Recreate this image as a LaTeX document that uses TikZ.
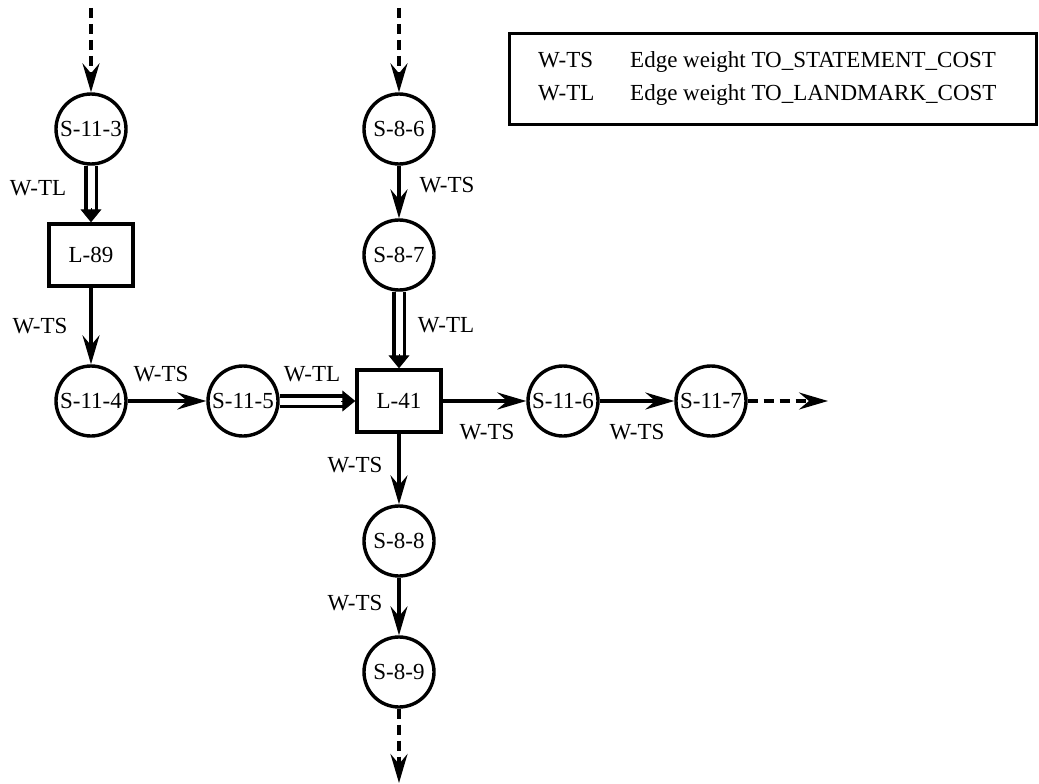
\documentclass[tikz,border=0pt]{standalone}
\usepackage{fontspec}
\setmainfont{Liberation Serif}
\usetikzlibrary{arrows.meta,calc}
\begin{document}
\begin{tikzpicture}[x=1pt,y=-1pt,font=\fontsize{23}{27}\selectfont,
 snode/.style={circle, draw, line width=3.4pt, minimum size=70pt, inner sep=0pt},
 lnode/.style={rectangle, draw, line width=3.4pt, minimum width=84pt, minimum height=62pt, inner sep=0pt},
 arr/.style={line width=3.2pt, -{Stealth[length=29pt,width=17pt,inset=10pt]}},
 darr/.style={arr, dash pattern=on 10pt off 6pt},
 dbl/.style={line width=3.2pt, double distance=7pt, shorten >=11pt},
 dbltip/.style={line width=1pt, -{Triangle[length=13pt,width=21pt]}},
 wlab/.style={inner sep=0pt}]
\useasboundingbox (0,0) rectangle (1039,784);
% nodes
\node[snode] (s113) at (91,129) {S-11-3};
\node[lnode] (l89) at (91,255) {L-89};
\node[snode] (s114) at (91,401) {S-11-4};
\node[snode] (s115) at (243,401) {S-11-5};
\node[lnode] (l41) at (399,401) {L-41};
\node[snode] (s116) at (563,401) {S-11-6};
\node[snode] (s117) at (711,401) {S-11-7};
\node[snode] (s86) at (399,129) {S-8-6};
\node[snode] (s87) at (399,255) {S-8-7};
\node[snode] (s88) at (399,541) {S-8-8};
\node[snode] (s89) at (399,672) {S-8-9};
% free ends
\coordinate (in1) at (91,8);
\coordinate (in2) at (399,8);
\coordinate (out1) at (828,401);
\coordinate (out2) at (399,783);
% dashed arrows
\draw[darr] (in1) -- (s113);
\draw[darr] (in2) -- (s86);
\draw[darr] (s117) -- (out1);
\draw[darr] (s89) -- (out2);
% single arrows
\draw[arr] (l89) -- (s114);
\draw[arr] (s114) -- (s115);
\draw[arr] (s86) -- (s87);
\draw[arr] (l41) -- (s116);
\draw[arr] (s116) -- (s117);
\draw[arr] (l41) -- (s88);
\draw[arr] (s88) -- (s89);
% double arrows
\draw[dbl] (s113) -- (l89);
\draw[dbltip] ($(l89.north)+(0,-14)$) -- (l89.north);
\draw[dbl] (s87) -- (l41);
\draw[dbltip] ($(l41.north)+(0,-14)$) -- (l41.north);
\draw[dbl] (s115) -- (l41);
\draw[dbltip] ($(l41.west)+(-14,0)$) -- (l41.west);
% labels
\node[wlab] (lab1) at (38,188) {W-TL};
\node[wlab] (lab2) at (40,326) {W-TS};
\node[wlab] (lab3) at (161,374) {W-TS};
\node[wlab] (lab4) at (312,374) {W-TL};
\node[wlab] (lab5) at (447,185) {W-TS};
\node[wlab] (lab6) at (446,325) {W-TL};
\node[wlab] (lab7) at (487,432) {W-TS};
\node[wlab] (lab8) at (637,432) {W-TS};
\node[wlab] (lab9) at (355,465) {W-TS};
\node[wlab] (lab10) at (355,603) {W-TS};
% legend
\node[draw, line width=2.8pt, minimum width=527pt, minimum height=91pt, inner sep=0pt] (legend) at (773,79) {};
\node[anchor=base west, inner sep=0pt] (lg1) at (538,68) {W-TS};
\node[anchor=base west, inner sep=0pt] (lg2) at (538,100) {W-TL};
\node[anchor=base west, inner sep=0pt] (lg3) at (630,68) {Edge weight TO\_STATEMENT\_COST};
\node[anchor=base west, inner sep=0pt] (lg4) at (630,100) {Edge weight TO\_LANDMARK\_COST};
\end{tikzpicture}
\end{document}
